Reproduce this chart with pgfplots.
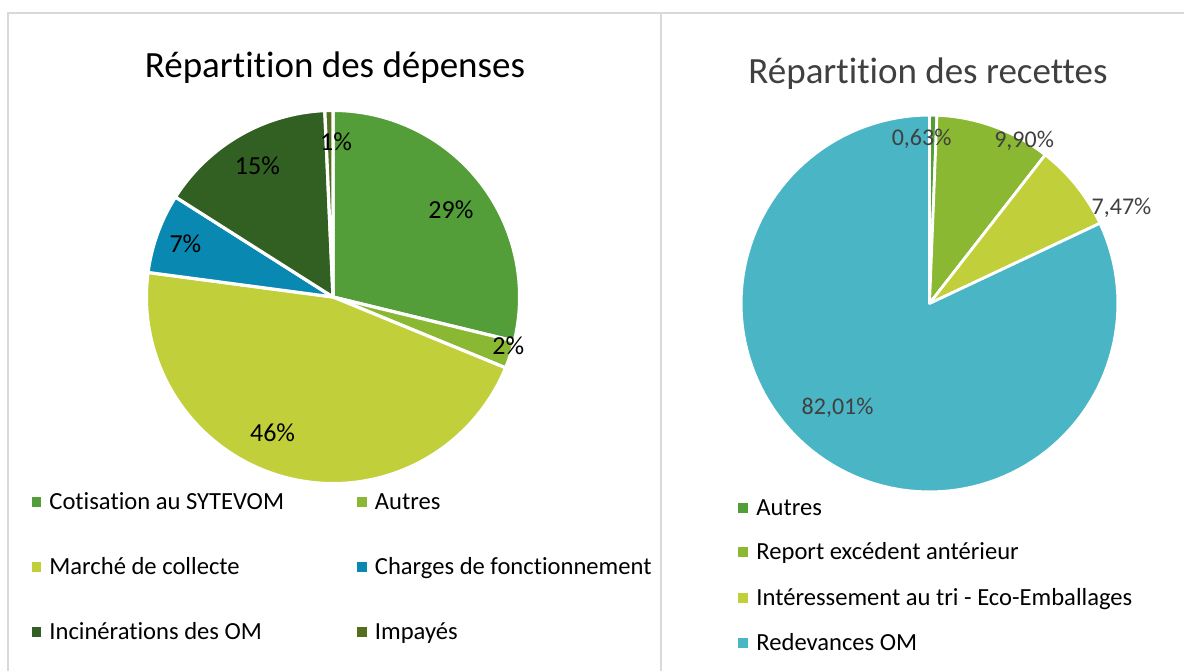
\documentclass[border=0pt]{standalone}
\usepackage{fontspec}
\setmainfont{Carlito}[Ligatures={NoCommon,NoContextual}]
\usepackage{pgfplots}
\usepackage{pgfplotstable}
\pgfplotsset{compat=1.18}

\definecolor{cA}{HTML}{549E39}
\definecolor{cB}{HTML}{8AB833}
\definecolor{cC}{HTML}{C0CF3A}
\definecolor{cF}{HTML}{0989B1}
\definecolor{cG}{HTML}{325F22}
\definecolor{cH}{HTML}{536E1F}
\definecolor{cE}{HTML}{4AB5C4}
\definecolor{frame}{HTML}{D9D9D9}
\definecolor{txtgray}{HTML}{404040}

% Répartition des dépenses (share, percent)
\pgfplotstableread{
key value color
cotisation 28.8 cA
autres 2.4 cB
marche 45.9 cC
charges 6.9 cF
incinerations 15.3 cG
impayes 0.7 cH
}\depenses

% Répartition des recettes (share, percent)
\pgfplotstableread{
key value color
autres 0.63 cA
report 9.90 cB
interessement 7.47 cC
redevances 82.01 cE
}\recettes

\newcommand\drawpie[3]{%
  \def\cum{0}%
  \pgfplotsforeachungrouped \i in {0,...,#2}{%
    \pgfplotstablegetelem{\i}{value}\of#1\let\v\pgfplotsretval
    \pgfplotstablegetelem{\i}{color}\of#1\let\c\pgfplotsretval
    \pgfmathsetmacro\a{\cum*3.6}%
    \pgfmathsetmacro\cum{\cum+\v}%
    \pgfmathsetmacro\b{min(\cum*3.6,360)}%
    \edef\temp{\noexpand\addplot[fill=\c, draw=white, line width=#3, line join=round, domain=\a:\b, samples=120] ({sin(x)},{cos(x)}) -- (0,0) -- cycle;}%
    \temp
  }%
}

\newcommand\legitem[5]{% x, y, color, text, text offset
  \node[fill=#3, minimum size=4.6pt, inner sep=0pt] at (#1,#2) {};
  \node[anchor=base west, inner sep=0pt, font=\fontsize{12.3}{14}\selectfont] at (#1+#5,#2-3.9pt) {#4};
}

\begin{document}
\begin{tikzpicture}
\path[use as bounding box] (0,0) rectangle (592pt,335.5pt);
\draw[line width=1pt, frame] (4pt,0) -- (4pt,329pt) -- (592pt,329pt);
\draw[line width=1pt, frame] (330.5pt,0) -- (330.5pt,329pt);

\node[anchor=base, inner sep=0pt, font=\fontsize{18.5}{22}\selectfont] at (167.5pt,296.5pt) {Répartition des dépenses};
\node[anchor=base, inner sep=0pt, text=txtgray, font=\fontsize{18.5}{22}\selectfont] at (464pt,293.5pt) {Répartition des recettes};

\begin{axis}[at={(166.5pt,187pt)}, anchor=center, width=186.6pt, height=186.6pt,
  scale only axis, xmin=-1, xmax=1, ymin=-1, ymax=1, hide axis, clip=false]
  \drawpie{\depenses}{5}{1.6pt}
  \begin{scope}[every node/.style={font=\fontsize{13}{15}\selectfont, inner sep=0pt}]
  \node at (axis cs:0.632,0.470) {29\%};
  \node at (axis cs:0.939,-0.259) {2\%};
  \node at (axis cs:-0.324,-0.730) {46\%};
  \node at (axis cs:-0.791,0.286) {7\%};
  \node at (axis cs:-0.405,0.703) {15\%};
  \node at (axis cs:0.016,0.834) {1\%};
  \end{scope}
\end{axis}

\begin{axis}[at={(464.75pt,183.75pt)}, anchor=center, width=188.4pt, height=188.4pt,
  scale only axis, xmin=-1, xmax=1, ymin=-1, ymax=1, hide axis, clip=false]
  \drawpie{\recettes}{3}{1.4pt}
  \begin{scope}[every node/.style={font=\fontsize{12}{14}\selectfont, inner sep=0pt, text=txtgray}]
  \node at (axis cs:-0.042,0.874) {0,63\%};
  \node at (axis cs:0.502,0.865) {9,90\%};
  \node at (axis cs:1.019,0.509) {7,47\%};
  \node at (axis cs:-0.488,-0.552) {82,01\%};
  \end{scope}
\end{axis}

\legitem{18.25pt}{84.5pt}{cA}{Cotisation au SYTEVOM}{6.25pt}
\legitem{181pt}{84.5pt}{cB}{Autres}{6.25pt}
\legitem{18.25pt}{52pt}{cC}{Marché de collecte}{6.25pt}
\legitem{181pt}{52pt}{cF}{Charges de fonctionnement}{6.25pt}
\legitem{18.25pt}{19.5pt}{cG}{Incinérations des OM}{6.25pt}
\legitem{181pt}{19.5pt}{cH}{Impayés}{6.25pt}

\legitem{371.5pt}{81.5pt}{cA}{Autres}{6.5pt}
\legitem{371.5pt}{59.5pt}{cB}{Report excédent antérieur}{6.5pt}
\legitem{371.5pt}{36.5pt}{cC}{Intéressement au tri - Eco-Emballages}{6.5pt}
\legitem{371.5pt}{14pt}{cE}{Redevances OM}{6.5pt}
\end{tikzpicture}
\end{document}
